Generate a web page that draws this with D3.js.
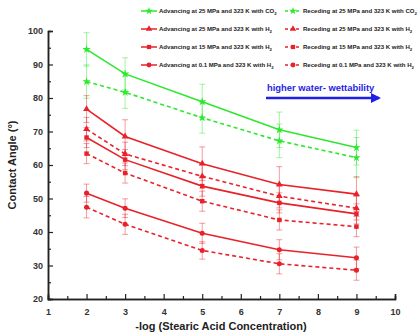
<!DOCTYPE html>
<html><head><meta charset="utf-8">
<script src="https://cdn.jsdelivr.net/npm/d3@7"></script>
<style>body{margin:0;background:#fff}svg{display:block}text{font-family:"Liberation Sans",Arial,sans-serif;font-weight:bold}</style>
</head><body>
<script>
const xVals = [2, 3, 5, 7, 9];
const advCO2_25 = [94.5, 87.2, 78.9, 70.5, 65.2];
const recCO2_25 = [84.9, 81.7, 74.1, 67.2, 62.2];
const advH2_25 = [76.7, 68.5, 60.4, 54.2, 51.3];
const recH2_25 = [70.7, 63.3, 56.6, 50.7, 47.1];
const advH2_15 = [68.2, 61.6, 53.7, 48.7, 45.4];
const recH2_15 = [63.4, 57.6, 49.2, 43.6, 41.6];
const advH2_01 = [51.6, 47.1, 39.6, 34.7, 32.3];
const recH2_01 = [47.4, 42.3, 34.5, 30.5, 28.6];
const errAdvCO2_25 = [5, 4.8, 5.2, 5.3, 5.2];
const errRecCO2_25 = [5, 4.8, 4.6, 5, 6];
const errAdvH2_25 = [4, 5, 5, 5.3, 5.2];
const errRecH2_25 = [3.5, 3.5, 3.5, 3.5, 3.5];
const errAdvH2_15 = [3, 3, 3, 3, 3];
const errRecH2_15 = [3, 3, 3, 3, 3];
const errAdvH2_01 = [2.7, 2.8, 3, 3, 3.2];
const errRecH2_01 = [3.2, 3, 2.6, 3, 3];
const legendLabels = [
  ["Advancing at 25 MPa and 323 K with CO", "2"],
  ["Receding at 25 MPa and 323 K with CO", "2"],
  ["Advancing at 25 MPa and 323 K with H", "2"],
  ["Receding at 25 MPa and 323 K with H", "2"],
  ["Advancing at 15 MPa and 323 K with H", "2"],
  ["Receding at 15 MPa and 323 K with H", "2"],
  ["Advancing at 0.1 MPa and 323 K with H", "2"],
  ["Receding at 0.1 MPa and 323 K with H", "2"]
];
const xTicks = [1,2,3,4,5,6,7,8,9,10];
const yTicks = [20,30,40,50,60,70,80,90,100];
const xTitle = "-log (Stearic Acid Concentration)";
const yTitle = "Contact Angle (°)";
const annotation = "higher water- wettability";

const G = "#2ee82e", R = "#e8222a";
const series = [
  {v: advCO2_25, e: errAdvCO2_25, c: G, dash: null, sym: d3.symbolStar},
  {v: recCO2_25, e: errRecCO2_25, c: G, dash: "4,3", sym: d3.symbolStar},
  {v: advH2_25, e: errAdvH2_25, c: R, dash: null, sym: d3.symbolTriangle},
  {v: recH2_25, e: errRecH2_25, c: R, dash: "4,3", sym: d3.symbolTriangle},
  {v: advH2_15, e: errAdvH2_15, c: R, dash: null, sym: d3.symbolSquare},
  {v: recH2_15, e: errRecH2_15, c: R, dash: "4,3", sym: d3.symbolSquare},
  {v: advH2_01, e: errAdvH2_01, c: R, dash: null, sym: d3.symbolCircle},
  {v: recH2_01, e: errRecH2_01, c: R, dash: "4,3", sym: d3.symbolCircle}
];

const W = 420, H = 335;
const svg = d3.select("body").append("svg").attr("width", W).attr("height", H);
const x = d3.scaleLinear().domain([1, 10]).range([48, 395]);
const y = d3.scaleLinear().domain([20, 100]).range([299, 31]);

// axes
const axCol = "#222";
const xAx = svg.append("g").attr("transform", `translate(0,${y(20)})`)
  .call(d3.axisBottom(x).tickValues(xTicks).tickSize(-5).tickPadding(10).tickFormat(d3.format("d")));
const xMinor = svg.append("g").attr("transform", `translate(0,${y(20)})`)
  .call(d3.axisBottom(x).tickValues(d3.range(1.5, 10, 1)).tickSize(-3).tickFormat(""));
const yAx = svg.append("g").attr("transform", `translate(${x(1)},0)`)
  .call(d3.axisLeft(y).tickValues(yTicks).tickSize(-5).tickPadding(5).tickFormat(d3.format("d")));
const yMinor = svg.append("g").attr("transform", `translate(${x(1)},0)`)
  .call(d3.axisLeft(y).tickValues(d3.range(25, 100, 10)).tickSize(-3).tickFormat(""));
[xAx, xMinor, yAx, yMinor].forEach(g => {
  g.selectAll("path").attr("stroke", axCol).attr("stroke-width", 1.5);
  g.selectAll("line").attr("stroke", axCol).attr("stroke-width", 1.2);
  g.selectAll("text").attr("fill", "#333").style("font-size", "9px");
});

// error bars
series.forEach(s => {
  const g = svg.append("g").attr("stroke", s.c).attr("stroke-opacity", 0.45).attr("stroke-width", 1);
  xVals.forEach((xv, i) => {
    const cx = x(xv), y1 = y(s.v[i] + s.e[i]), y0 = y(s.v[i] - s.e[i]);
    g.append("line").attr("x1", cx).attr("x2", cx).attr("y1", y1).attr("y2", y0);
    g.append("line").attr("x1", cx - 3).attr("x2", cx + 3).attr("y1", y1).attr("y2", y1);
    g.append("line").attr("x1", cx - 3).attr("x2", cx + 3).attr("y1", y0).attr("y2", y0);
  });
});

// lines & markers
const line = d3.line().x((d, i) => x(xVals[i])).y(d => y(d));
series.forEach(s => {
  svg.append("path").datum(s.v).attr("d", line).attr("fill", "none")
    .attr("stroke", s.c).attr("stroke-width", 1.6).attr("stroke-dasharray", s.dash);
  svg.append("g").selectAll("path").data(s.v).join("path")
    .attr("transform", (d, i) => `translate(${x(xVals[i])},${y(d)})`)
    .attr("d", d3.symbol().type(s.sym).size(s.sym === d3.symbolStar ? 22 : 20))
    .attr("fill", s.c);
});

// legend
const rowsY = [11, 29, 47, 65];
series.forEach((s, k) => {
  const row = Math.floor(k / 2), col = k % 2;
  const lx = col === 0 ? 141 : 285, ly = rowsY[row];
  svg.append("line").attr("x1", lx).attr("x2", lx + 16).attr("y1", ly).attr("y2", ly)
    .attr("stroke", s.c).attr("stroke-width", 1.5).attr("stroke-dasharray", s.dash ? "3,2.5" : null);
  svg.append("path").attr("transform", `translate(${lx + 8},${ly})`)
    .attr("d", d3.symbol().type(s.sym).size(18)).attr("fill", s.c);
  const t = svg.append("text").attr("x", lx + 18).attr("y", ly + 2.2)
    .style("font-size", "6.05px").attr("fill", "#222");
  t.append("tspan").text(legendLabels[k][0]);
  t.append("tspan").attr("dy", 2).style("font-size", "4.3px").text(legendLabels[k][1]);
});

// annotation
svg.append("text").attr("x", 267).attr("y", 91).attr("fill", "#1f1fe6")
  .style("font-size", "9.4px").text(annotation);
svg.append("defs").append("marker").attr("id", "ah").attr("viewBox", "0 0 10 10")
  .attr("refX", 8).attr("refY", 5).attr("markerWidth", 4).attr("markerHeight", 4)
  .attr("orient", "auto").append("path").attr("d", "M0,0L10,5L0,10z").attr("fill", "#1f1fe6");
svg.append("line").attr("x1", 266).attr("x2", 379).attr("y1", 98).attr("y2", 98)
  .attr("stroke", "#1f1fe6").attr("stroke-width", 2.5).attr("marker-end", "url(#ah)");

// titles
svg.append("text").attr("x", 221).attr("y", 330).attr("text-anchor", "middle")
  .style("font-size", "11px").attr("fill", "#222").text(xTitle);
svg.append("text").attr("transform", `translate(16,${y(60)}) rotate(-90)`).attr("text-anchor", "middle")
  .style("font-size", "11px").attr("fill", "#222").text(yTitle);
</script>
</body></html>
